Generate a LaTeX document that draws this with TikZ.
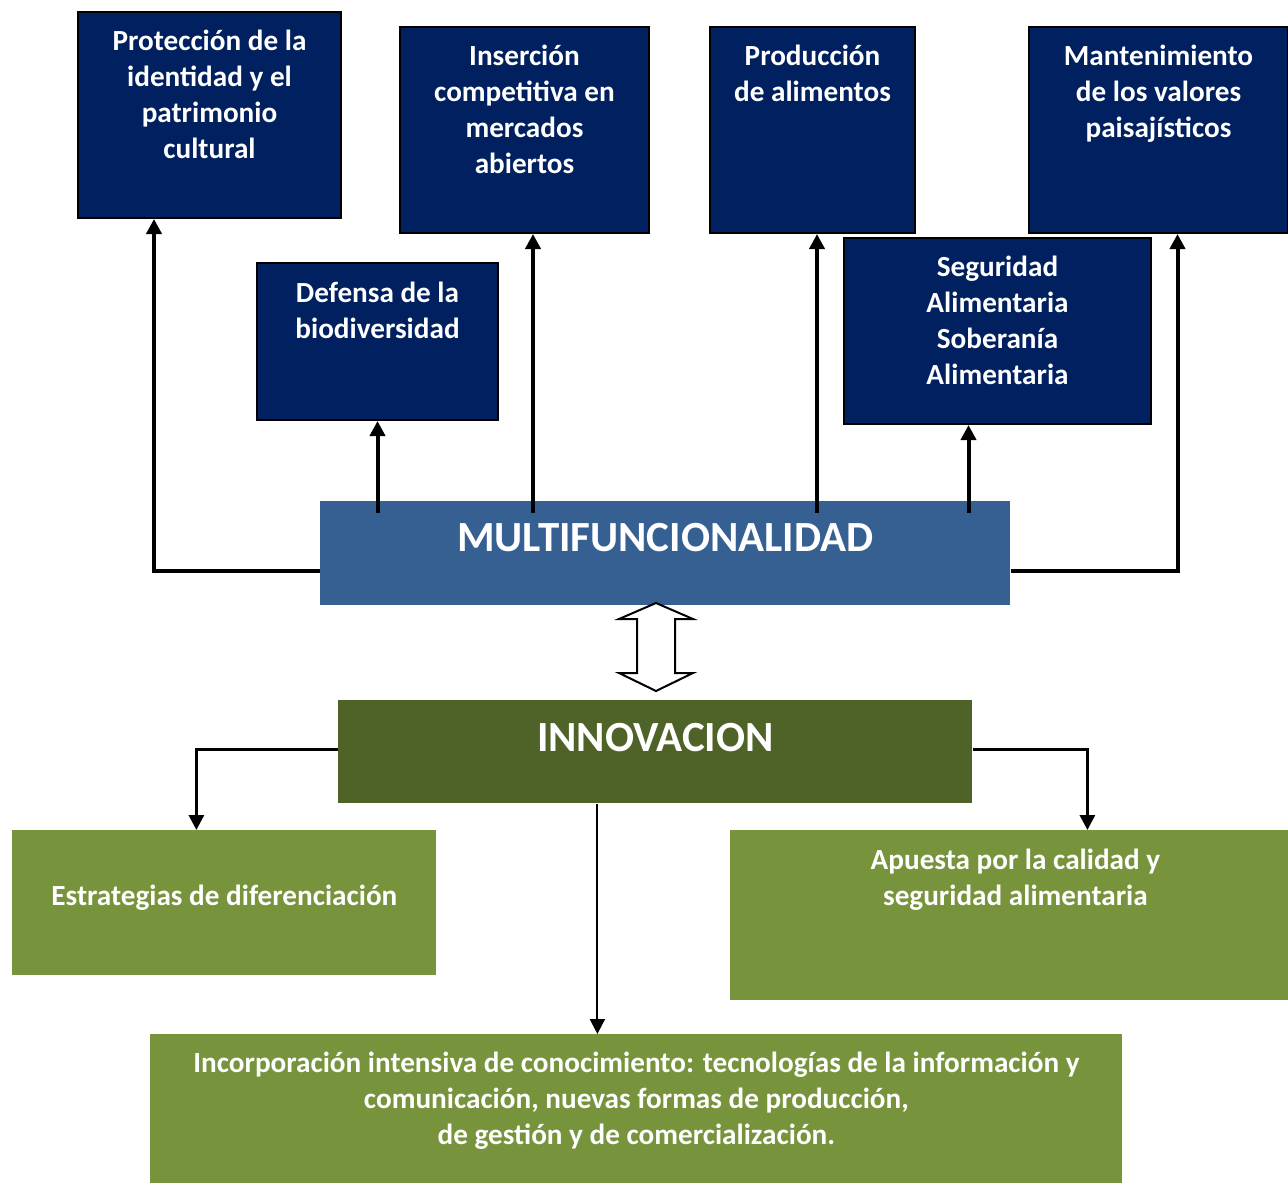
\documentclass[tikz,border=0pt]{standalone}
\usepackage{fontspec}
\setmainfont{Carlito}
\usetikzlibrary{arrows.meta}
\definecolor{navy}{RGB}{0,32,96}
\definecolor{multiblue}{RGB}{54,96,146}
\definecolor{innovgreen}{RGB}{79,98,40}
\definecolor{leafgreen}{RGB}{119,147,60}
\begin{document}
\begin{tikzpicture}[x=0.5pt,y=-0.5pt,>={Triangle[length=7.5pt,width=7.5pt]},
  topbox/.style={draw=black,line width=1pt,fill=navy,anchor=north west,inner sep=0pt},
  flatbox/.style={fill=#1,anchor=north west,inner sep=0pt},
  txt/.style={anchor=base,yshift=-#1,align=center,text=white,inner sep=0pt,
    font=\fontsize{14.6}{18}\selectfont\bfseries},
  bigtxt/.style={txt=#1,font=\fontsize{21.5}{26}\selectfont\bfseries},
  uplink/.style={->,line width=2pt},
  downlink/.style={->,line width=1.5pt}]
\clip (0,0) rectangle (1288,1182);
\node (prot) at (77,11)   [topbox,minimum width=131.5pt,minimum height=103pt,
  label={[txt=74pt]north:{Protección de la\\identidad y el\\patrimonio\\cultural}}] {};
\node (ins)  at (399,26)  [topbox,minimum width=124.5pt,minimum height=103pt,
  label={[txt=74pt]north:{Inserción\\competitiva en\\mercados\\abiertos}}] {};
\node (prod) at (709,26)  [topbox,minimum width=102.5pt,minimum height=103pt,
  label={[txt=38pt]north:{Producción\\de alimentos}}] {};
\node (mant) at (1028,26) [topbox,minimum width=129.5pt,minimum height=103pt,
  label={[txt=56pt]north:{Mantenimiento\\de los valores\\paisajísticos}}] {};
\node (def)  at (256,262) [topbox,minimum width=120.5pt,minimum height=78.5pt,
  label={[txt=38pt]north:{Defensa de la\\biodiversidad}}] {};
\node (seg)  at (843,237) [topbox,minimum width=153.5pt,minimum height=93pt,
  label={[txt=73.5pt]north:{Seguridad\\Alimentaria\\Soberanía\\Alimentaria}}] {};
\node (multi) at (320,501) [flatbox=multiblue,minimum width=345pt,minimum height=52pt,
  label={[bigtxt=25pt]north:MULTIFUNCIONALIDAD}] {};
\node (innov) at (338,700) [flatbox=innovgreen,minimum width=317pt,minimum height=51.5pt,
  label={[bigtxt=25.5pt]north:INNOVACION}] {};
\node (estr) at (12,830)  [flatbox=leafgreen,minimum width=212pt,minimum height=72.5pt,
  label={[txt=37.5pt]north:{Estrategias de diferenciación}}] {};
\node (apu)  at (730,830) [flatbox=leafgreen,minimum width=279pt,minimum height=85pt,
  label={[txt=37.5pt,xshift=3pt]north:{Apuesta por la calidad y\\seguridad alimentaria}}] {};
\node (inc)  at (150,1034) [flatbox=leafgreen,minimum width=486pt,minimum height=80pt,
  label={[txt=55pt]north:{Incorporación intensiva de conocimiento: tecnologías de la información y\\comunicación, nuevas formas de producción,\\de gestión y de comercialización.}}] {};
% double arrow between the two blocks
\draw [line width=1pt,fill=white] (656,603) -- (693,619) -- (675,619) -- (675,673) -- (693,673)
  -- (656,691) -- (619,673) -- (637,673) -- (637,619) -- (619,619) -- cycle;
% upper links
\draw [uplink] ([yshift=-8.75pt]multi.west) -| ([xshift=-27.75pt]prot.south);
\draw [uplink] ([yshift=-6pt]def.south |- multi.north) -- (def.south);
\draw [uplink] ([xshift=4.25pt,yshift=-6pt]ins.south |- multi.north) -- ([xshift=4.25pt]ins.south);
\draw [uplink] ([xshift=2.25pt,yshift=-6pt]prod.south |- multi.north) -- ([xshift=2.25pt]prod.south);
\draw [uplink] ([xshift=-14.5pt,yshift=-6pt]seg.south |- multi.north) -- ([xshift=-14.5pt]seg.south);
\draw [uplink] ([yshift=-8.75pt]multi.east) -| ([xshift=9.5pt]mant.south);
% lower links
\draw [downlink] ([yshift=1.25pt]innov.west) -| ([xshift=-14pt]estr.north);
\draw [downlink] ([yshift=1.25pt]innov.east) -| ([xshift=39pt]apu.north);
\draw [->,line width=1pt] ([xshift=-29pt]innov.south) -- ([xshift=-19.5pt]inc.north);
\end{tikzpicture}
\end{document}
